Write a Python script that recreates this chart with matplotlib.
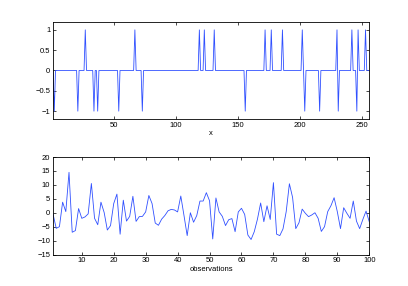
import matplotlib
matplotlib.use("Agg")
import matplotlib.pyplot as plt
import numpy as np

# top panel: sparse +/-1 signal of length 256 (1-based positions)
N_SIG = 256
NEG_POS = [2, 21, 34, 37, 54, 73, 156, 204, 216, 231, 246]
POS_POS = [27, 67, 119, 123, 131, 172, 177, 186, 202, 230, 242, 247, 253]

# bottom panel: 100 observations
OBS = [
    -0.5, -5.6, -5.0, 3.8, 0.4, 14.5, -7.0, -6.4, 1.5, -2.0,
    -1.5, -0.4, 10.5, -2.0, -4.3, 3.8, 0.1, -6.2, -4.6, 3.3,
    6.7, -7.7, 4.5, -3.0, -1.3, 5.9, -3.1, -1.4, -1.3, 0.3,
    6.2, 3.3, -3.7, -4.5, -2.3, -1.0, 0.7, 1.2, 1.0, 0.3,
    6.0, -1.0, -8.2, 0.0, -3.4, -1.0, 4.2, 4.2, 7.2, 4.3,
    -9.4, 5.3, 0.3, -1.3, -4.6, -2.5, -2.1, -6.8, 0.3, 1.6,
    -0.6, -8.0, -9.6, -6.8, -2.3, 3.5, -3.2, 2.5, -2.4, 10.8,
    -7.7, -8.2, -5.8, 0.4, 10.4, 5.5, -5.7, -3.6, 1.3, -0.2,
    -1.4, -0.8, 0.0, -2.0, -6.7, -5.0, 0.4, 2.5, 5.4, 0.4,
    -5.7, 1.8, -0.2, -2.0, 4.2, -3.0, -5.7, -2.4, 0.6, -3.2,
]

TOP_XTICKS = [50, 100, 150, 200, 250]
TOP_YTICKS = [-1, -0.5, 0, 0.5, 1]
BOT_XTICKS = [10, 20, 30, 40, 50, 60, 70, 80, 90, 100]
BOT_YTICKS = [-15, -10, -5, 0, 5, 10, 15, 20]

plt.rcParams["font.family"] = ["Liberation Sans", "DejaVu Sans"]
FS = 5.5
LINE = "#3050ff"

sig = np.zeros(N_SIG)
sig[np.array(NEG_POS) - 1] = -1
sig[np.array(POS_POS) - 1] = 1
xs = np.arange(1, N_SIG + 1)
obs = np.array(OBS)
xo = np.arange(1, len(obs) + 1)

fig = plt.figure(figsize=(4.08, 2.86), dpi=100)
ax1 = fig.add_axes([0.13, 0.583, 0.775, 0.341])
ax2 = fig.add_axes([0.13, 0.11, 0.775, 0.341])

ax1.plot(xs, sig, color=LINE, lw=0.6)
ax1.set_xlim(1, N_SIG)
ax1.set_ylim(-1.2, 1.2)
ax1.set_xticks(TOP_XTICKS)
ax1.set_yticks(TOP_YTICKS)
ax1.set_yticklabels(["\u22121", "\u22120.5", "0", "0.5", "1"])
ax1.set_xlabel("x", fontsize=FS, labelpad=1)

ax2.plot(xo, obs, color=LINE, lw=0.6)
ax2.set_xlim(1, 100)
ax2.set_ylim(-15, 20)
ax2.set_xticks(BOT_XTICKS)
ax2.set_yticks(BOT_YTICKS)
ax2.set_xlabel("observations", fontsize=FS, labelpad=1)

for ax in (ax1, ax2):
    ax.tick_params(direction="in", length=2, width=0.5, labelsize=FS,
                   top=True, right=True, pad=2)
    for s in ax.spines.values():
        s.set_linewidth(0.6)

fig.savefig("out.png", dpi=100)
